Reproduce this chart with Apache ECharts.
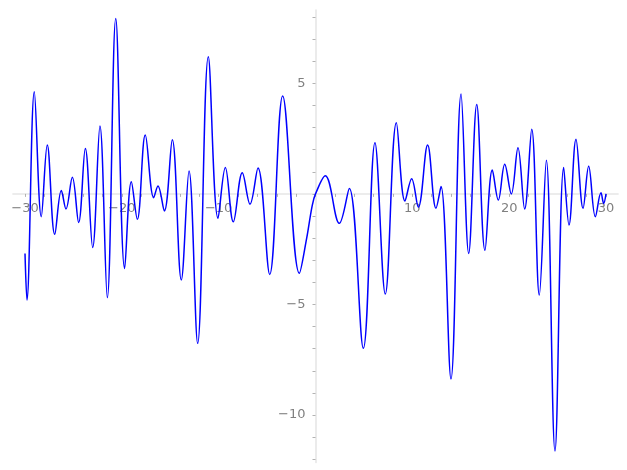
<!DOCTYPE html>
<html>
<head>
<meta charset="utf-8">
<script src="https://cdn.jsdelivr.net/npm/echarts@6/dist/echarts.min.js"></script>
<style>
html,body{margin:0;padding:0;background:#fff;}
#chart{width:627px;height:470px;}
</style>
</head>
<body>
<div id="chart"></div>
<script>
// Curve samples (turning points and a few shape points)
var xs = [-30.0, -29.8, -29.04, -28.32, -27.70, -26.93, -26.25, -25.77, -25.11, -24.46,
  -23.77, -23.01, -22.26, -21.50, -20.63, -19.71, -19.02, -18.40, -17.58, -16.71,
  -16.27, -15.61, -14.79, -13.86, -13.06, -12.17, -11.07, -10.07, -9.31, -8.49,
  -7.56, -6.76, -5.94, -4.73, -3.39, -1.67, -0.91, -0.35, 0.0, 1.01,
  2.46, 3.49, 4.94, 6.14, 7.21, 8.35, 9.24, 9.93, 10.62, 11.58,
  12.44, 12.96, 13.99, 15.03, 15.82, 16.65, 17.50, 18.26, 18.88, 19.54,
  20.22, 20.91, 21.60, 22.33, 23.11, 23.84, 24.73, 25.63, 26.18, 26.90,
  27.63, 28.21, 28.90, 29.48, 29.76, 30.0];
var ys = [-2.70, -4.80, 4.62, -1.03, 2.21, -1.83, 0.16, -0.68, 0.75, -1.29,
  2.06, -2.42, 3.07, -4.69, 7.94, -3.37, 0.55, -1.15, 2.66, -0.17,
  0.36, -0.77, 2.45, -3.89, 1.04, -6.76, 6.21, -1.10, 1.20, -1.26,
  0.96, -0.46, 1.17, -3.64, 4.43, -3.59, -2.0, -0.55, 0.0, 0.82,
  -1.33, 0.25, -6.98, 2.32, -4.53, 3.22, -0.32, 0.69, -0.60, 2.21,
  -0.65, 0.33, -8.37, 4.52, -2.69, 4.05, -2.55, 1.08, -0.28, 1.34,
  0.00, 2.09, -0.68, 2.92, -4.57, 1.52, -11.63, 1.20, -1.41, 2.47,
  -0.65, 1.25, -1.03, 0.05, -0.43, 0.0];

var xLabelValues = [-30, -20, -10, 10, 20, 30];
var xTickValues = [-30, -28, -26, -24, -22, -20, -18, -16, -14, -12, -10, -8, -6, -4, -2, 0,
  2, 4, 6, 8, 10, 12, 14, 16, 18, 20, 22, 24, 26, 28, 30];
var yLabelValues = [-10, -5, 5];
var yTickValues = [-12, -11, -10, -9, -8, -7, -6, -5, -4, -3, -2, -1, 0, 1, 2, 3, 4, 5, 6, 7, 8];

var pts = xs.map(function (x, i) { return [x, ys[i]]; });

function fmt(v) {
  return v < 0 ? '\u2212' + Math.abs(v) : String(v);
}

var GRID = {left: 12.9, right: 8.9, top: 10, bottom: 7.5};

var chart = echarts.init(document.getElementById('chart'), null, {renderer: 'canvas'});
function build(xOff, yOff) {
  return {
    animation: false,
    backgroundColor: '#ffffff',
    grid: {left: GRID.left, right: GRID.right, top: GRID.top, bottom: GRID.bottom, containLabel: false, outerBoundsMode: 'none'},
    xAxis: {
      type: 'value',
      position: 'bottom',
      offset: xOff,
      min: -31.25,
      max: 31.25,
      axisLine: {onZero: false, lineStyle: {color: '#e6e6e6', width: 1.6}},
      axisTick: {show: true, customValues: xTickValues, length: 3, lineStyle: {color: '#a0a0a0', width: 0.8}},
      axisLabel: {
        customValues: xLabelValues,
        formatter: fmt,
        color: '#808080',
        fontFamily: 'DejaVu Sans',
        fontSize: 13,
        margin: 8
      },
      splitLine: {show: false}
    },
    yAxis: {
      type: 'value',
      position: 'left',
      offset: yOff,
      min: -12.15,
      max: 8.32,
      axisLine: {onZero: false, lineStyle: {color: '#e6e6e6', width: 1.6}},
      axisTick: {show: true, customValues: yTickValues, length: 3, lineStyle: {color: '#a0a0a0', width: 0.8}},
      axisLabel: {
        customValues: yLabelValues,
        formatter: fmt,
        color: '#808080',
        fontFamily: 'DejaVu Sans',
        fontSize: 13,
        margin: 10
      },
      splitLine: {show: false}
    },
    series: [{
      type: 'line',
      data: pts,
      smooth: 0.38,
      showSymbol: false,
      lineStyle: {color: '#0000ff', width: 1.5},
      clip: false
    }]
  };
}
chart.setOption(build(0, 0));
// Move both axes so they cross at the data origin
var origin = chart.convertToPixel({gridIndex: 0}, [0, 0]);
var H = chart.getHeight();
var gridBottomPx = H - GRID.bottom;
var xOff = -(gridBottomPx - origin[1]);
var yOff = -(origin[0] - GRID.left);
chart.setOption(build(xOff, yOff), true);
</script>
</body>
</html>
